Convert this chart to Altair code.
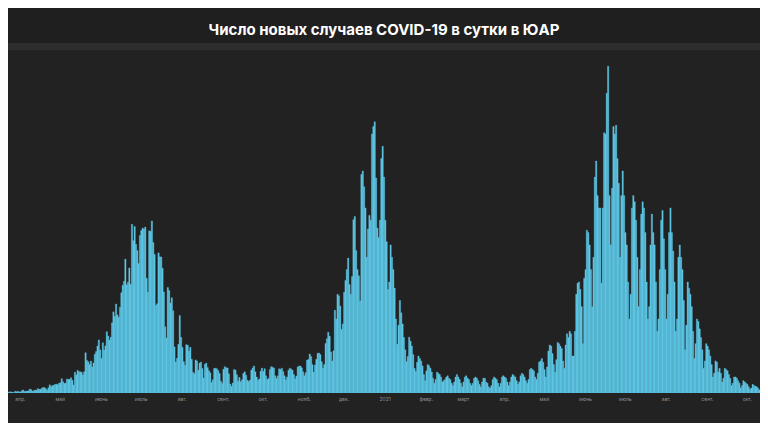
import json
import altair as alt
import pandas as pd

TITLE = "Число новых случаев COVID-19 в сутки в ЮАР"

# daily new cases, one list per month
APR_2020 = [27, 82, 43, 80, 70, 31, 63, 96, 89, 69, 25, 145, 99, 143, 91, 99, 178, 251, 124, 142,
            165, 170, 318, 267, 141, 185, 247, 203, 354, 297]
MAY_2020 = [304, 385, 447, 437, 352, 236, 424, 663, 525, 595, 637, 698, 724, 665, 785, 831, 1160, 918, 767, 803,
            1134, 1100, 1106, 1240, 1032, 649, 1673, 1466, 1837, 1727, 1716]
JUN_2020 = [1674, 1455, 1713, 3267, 2642, 2539, 2312, 2594, 2112, 2430, 3147, 3359, 3809, 4302, 3495, 2801, 4078,
            3478, 3825, 4966, 4621, 4288, 4518, 5688, 6579, 6215, 7210, 6334, 6130, 6945]
JUL_2020 = [8124, 8728, 9063, 10853, 8773, 8971, 10134, 8810, 13674, 12348, 13497, 12058, 11554, 10496, 12757,
            13172, 13373, 13285, 13449, 9300, 8170, 13150, 13104, 13944, 12204, 11233, 7096, 7232, 11362, 11046, 11014]
AUG_2020 = [10107, 8195, 5377, 4456, 8559, 8307, 7292, 7712, 6671, 3739, 2511, 2810, 3946, 6275, 4513, 3692, 2541,
            2258, 3916, 3880, 3398, 3707, 2728, 1677, 1567, 2684, 2585, 1846, 2419, 2505, 1985]
SEP_2020 = [1218, 2336, 2420, 2063, 1806, 1633, 845, 1079, 1990, 2007, 1960, 1816, 1579, 956, 772, 1923, 2128, 2055,
            2029, 1555, 725, 541, 805, 1906, 1861, 1480, 969, 1268, 903, 1079]
OCT_2020 = [1590, 1717, 1448, 1034, 936, 1051, 1848, 2036, 2186, 1714, 1290, 1030, 1144, 1767, 2017, 1745, 1973,
            1395, 1093, 1187, 1908, 2136, 2086, 2029, 1400, 1184, 1389, 1960, 1912, 2016, 1744]
NOV_2020 = [1400, 1066, 1300, 1850, 2016, 1936, 1854, 1500, 1157, 1377, 2113, 2193, 2190, 2041, 1717, 1400, 1640,
            2672, 2713, 3159, 2956, 2300, 1677, 2270, 2728, 3220, 3242, 3113, 2536, 2022]
DEC_2020 = [2300, 4011, 4400, 4932, 4600, 3313, 2600, 3419, 6709, 6000, 7999, 7882, 7046, 5163, 5600, 8166, 9126,
            10008, 10939, 8789, 7999, 9445, 14046, 14305, 11552, 10000, 9502, 7458, 17710, 18000, 16726]
JAN_2021 = [15002, 11000, 13300, 14400, 14000, 20999, 21590, 21980, 17421, 13373, 12601, 14000, 19000, 20000, 17500,
            14000, 12267, 8388, 9000, 12000, 11000, 10000, 8500, 6000, 3953, 5500, 7500, 6500, 5600, 4500, 3500]
FEB_2021 = [2548, 2968, 4520, 4200, 3800, 3118, 2008, 1742, 2500, 3000, 2800, 2600, 2200, 1500, 1000, 1800, 2300,
            2200, 2000, 1700, 1200, 800, 1100, 1700, 1600, 1500, 1300, 900]
MAR_2021 = [1000, 1100, 1300, 1400, 1200, 1100, 800, 600, 900, 1300, 1500, 1300, 1100, 800, 500, 900, 1300, 1400,
            1200, 1100, 800, 600, 800, 1200, 1300, 1200, 1000, 700, 500, 900, 1200]
APR_2021 = [1200, 900, 800, 500, 400, 600, 1100, 1300, 1200, 1100, 800, 500, 800, 1300, 1400, 1300, 1200, 900, 600,
            900, 1300, 1500, 1400, 1300, 1000, 700, 900, 1400, 1600, 1500]
MAY_2021 = [1300, 1000, 800, 1100, 1900, 2000, 1900, 1800, 1300, 1100, 1600, 2500, 2600, 2800, 2500, 1900, 1300,
            2100, 3400, 3900, 3800, 3200, 2300, 1700, 2700, 4100, 4000, 3800, 3600, 2600, 2000]
JUN_2021 = [3900, 4800, 4500, 5000, 4800, 3000, 3000, 5000, 8000, 8900, 9000, 8400, 7000, 4000, 9300, 10000, 13200,
            13000, 12000, 10000, 7000, 11000, 17500, 18800, 16000, 15000, 15000, 8900, 15000, 21100]
JUL_2021 = [21000, 24300, 26485, 16000, 12000, 16600, 21600, 21000, 21700, 19000, 17000, 11000, 16000, 18000, 16000,
            13000, 12000, 9000, 6000, 8000, 15000, 16000, 15500, 14000, 11000, 7000, 10000, 14500, 15500, 15000, 13000]
AUG_2021 = [9000, 6000, 7000, 12000, 14500, 13000, 12000, 9000, 5000, 6000, 10000, 14000, 14800, 12500, 10000, 6000,
            8000, 13000, 15000, 13000, 11500, 9000, 5000, 6000, 11000, 12000, 11000, 10000, 7500, 3500, 5500]
SEP_2021 = [9000, 8500, 8000, 7000, 5000, 2800, 4000, 6000, 5800, 5200, 4500, 3500, 2000, 2600, 4000, 3800, 3500,
            3000, 2300, 1300, 1600, 2600, 2500, 1700, 2000, 1600, 900, 1200, 2000, 1900]
OCT_2021 = [1800, 1500, 1200, 600, 800, 1300, 1300, 1200, 1000, 800, 400, 600, 1000, 900, 800, 700, 500, 300, 400,
            700, 600, 550, 500, 400, 250, 300, 500, 450, 400, 350, 250]

MONTHS = [("2020-04", APR_2020), ("2020-05", MAY_2020), ("2020-06", JUN_2020), ("2020-07", JUL_2020),
          ("2020-08", AUG_2020), ("2020-09", SEP_2020), ("2020-10", OCT_2020), ("2020-11", NOV_2020),
          ("2020-12", DEC_2020), ("2021-01", JAN_2021), ("2021-02", FEB_2021), ("2021-03", MAR_2021),
          ("2021-04", APR_2021), ("2021-05", MAY_2021), ("2021-06", JUN_2021), ("2021-07", JUL_2021),
          ("2021-08", AUG_2021), ("2021-09", SEP_2021), ("2021-10", OCT_2021)]

# x-axis labels (placed mid-month)
TICK_MONTHS = [(2020, m) for m in range(4, 13)] + [(2021, m) for m in range(1, 11)]
TICK_LABELS = ["апр.", "май", "июнь", "июль", "авг.", "сент.", "окт.", "нояб.", "дек.", "2021",
               "февр.", "март", "апр.", "май", "июнь", "июль", "авг.", "сент.", "окт."]

rows = []
for ym, vals in MONTHS:
    start = pd.Timestamp(ym + "-01")
    for i, v in enumerate(vals):
        d = start + pd.Timedelta(days=i)
        rows.append({"start": d, "end": d + pd.Timedelta(days=1), "cases": v})
df = pd.DataFrame(rows)

W, H = 752, 343
Y_MAX = 27800
BG = "#222222"
BAR_COLOR = "#5cc6e4"

label_expr = (json.dumps(TICK_LABELS, ensure_ascii=False)
              + "[(year(datum.value)-2020)*12 + month(datum.value) - 3]")

x_scale = alt.Scale(domain=[alt.DateTime(year=2020, month=4, date=7),
                            alt.DateTime(year=2021, month=10, date=26)], nice=False)

bars = alt.Chart(df).mark_bar(color=BAR_COLOR, stroke=BAR_COLOR, strokeWidth=0.35, clip=True).encode(
    x=alt.X("start:T", scale=x_scale, title=None,
            axis=alt.Axis(values=[alt.DateTime(year=y, month=m, date=16) for y, m in TICK_MONTHS],
                          labelExpr=label_expr, labelFontSize=5, labelColor="#8f8f8f",
                          labelFont="Inter", domain=False, ticks=False, tickSize=0, grid=False,
                          labelPadding=3, labelOverlap=False, labelFlush=False, zindex=1)),
    x2="end:T",
    y=alt.Y("cases:Q", scale=alt.Scale(domain=[0, Y_MAX], nice=False), axis=None),
    y2=alt.datum(0),
)

one = pd.DataFrame({"k": [0]})
top_rect = alt.Chart(one).mark_rect(color="#1f1f1f").encode(
    x=alt.value(0), x2=alt.value(W), y=alt.value(-42), y2=alt.value(-7))
band = alt.Chart(one).mark_rect(color="#2d2d2d").encode(
    x=alt.value(0), x2=alt.value(W), y=alt.value(-7), y2=alt.value(0))
bottom = alt.Chart(one).mark_rect(color=BG).encode(
    x=alt.value(0), x2=alt.value(W), y=alt.value(H), y2=alt.value(H + 30))
title = alt.Chart(one).mark_text(text=TITLE, font="Inter", fontSize=15, fontWeight=700,
                                 color="#ffffff", baseline="middle", align="center").encode(
    x=alt.value(W / 2), y=alt.value(-20))

chart = alt.layer(top_rect, band, bottom, bars, title).properties(
    width=W, height=H, padding=0, background=BG
).configure_view(strokeWidth=0)

chart.save("out.html", embed_options={"renderer": "svg", "actions": False})
